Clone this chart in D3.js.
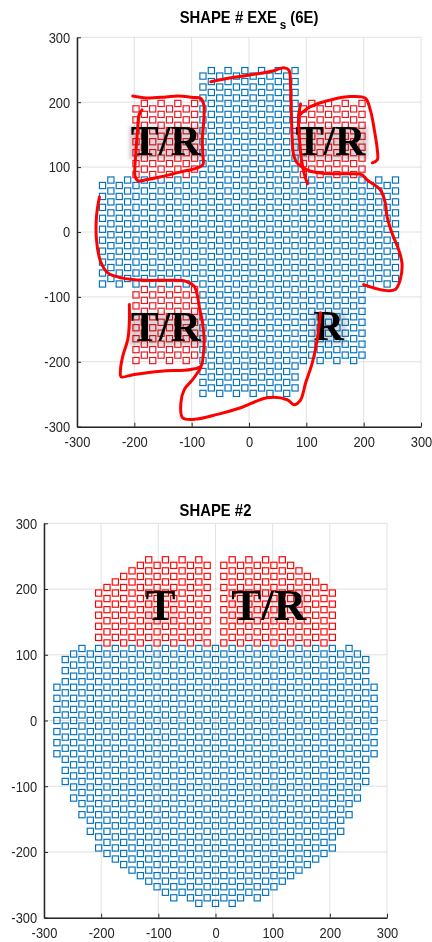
<!DOCTYPE html>
<html>
<head>
<meta charset="utf-8">
<script src="https://cdn.jsdelivr.net/npm/d3@7"></script>
<style>
  html, body { margin: 0; padding: 0; background: #fff; }
  svg { display: block; }
</style>
</head>
<body>
<svg id="chart" width="432" height="942"></svg>
<script>
// ---------------------------------------------------------------
// Element lattice: columns 14.6 apart, half-row step 8.43
// (rows inside one column are 2 half-steps apart, neighbouring
//  columns are shifted by one half-step).
// ---------------------------------------------------------------
const HALF_ROW = 8.43;
const tickValues = [-300, -200, -100, 0, 100, 200, 300];

// ----- SHAPE # EXE_s (6E) : y = (m + 0.5) * HALF_ROW -----
const exeColX = [-255.5, -240.9, -226.3, -211.7, -197.1, -182.5, -167.9, -153.3, -138.7, -124.1, -109.5, -94.9,
                 -80.3, -65.7, -51.1, -36.5, -21.9, -7.3, 7.3, 21.9, 36.5, 51.1, 65.7, 80.3,
                 94.9, 109.5, 124.1, 138.7, 153.3, 167.9, 182.5, 197.1, 211.7, 226.3, 240.9, 255.5];
const exeBlueLo = [-10, -9, -10, -9, -10, -9, -10, -9, -10, -9, -10, -9,
                   -30, -29, -30, -29, -30, -29, -30, -29, -30, -29, -30, -29,
                   -24, -23, -24, -23, -24, -23, -24, -23, -10, -9, -10, -9];
const exeBlueHi = [8, 9, 8, 9, 8, 9, 8, 9, 8, 9, 8, 9,
                   28, 29, 28, 29, 28, 29, 28, 29, 28, 29, 28, 29,
                   8, 9, 8, 9, 8, 9, 8, 9, 8, 9, 8, 9];
const N = null;
const exeRedUpLo = [N, N, N, N, 10, 11, 10, 11, 10, 11, 10, 11,
                    N, N, N, N, N, N, N, N, N, N, N, N,
                    10, 11, 10, 11, 10, 11, 10, 11, N, N, N, N];
const exeRedUpHi = [N, N, N, N, 22, 23, 22, 23, 22, 23, 22, 23,
                    N, N, N, N, N, N, N, N, N, N, N, N,
                    22, 23, 22, 23, 22, 23, 22, 23, N, N, N, N];
const exeRedDnLo = [N, N, N, N, -24, -23, -24, -23, -24, -23, -24, -23,
                    N, N, N, N, N, N, N, N, N, N, N, N,
                    N, N, N, N, N, N, N, N, N, N, N, N];
const exeRedDnHi = [N, N, N, N, -12, -11, -12, -11, -12, -11, -12, -11,
                    N, N, N, N, N, N, N, N, N, N, N, N,
                    N, N, N, N, N, N, N, N, N, N, N, N];

// ----- SHAPE #2 : y = m * HALF_ROW -----
const s2ColX = [-277.4, -262.8, -248.2, -233.6, -219, -204.4, -189.8, -175.2, -160.6, -146, -131.4, -116.8,
                -102.2, -87.6, -73, -58.4, -43.8, -29.2, -14.6, 0, 14.6, 29.2, 43.8, 58.4, 73, 87.6, 102.2,
                116.8, 131.4, 146, 160.6, 175.2, 189.8, 204.4, 219, 233.6, 248.2, 262.8, 277.4];
const s2BlueLo = [-6, -11, -14, -17, -20, -23, -24, -25, -26, -27, -28, -29, -30, -31, -32, -31, -32, -33, -32,
                  -33,
                  -32, -33, -32, -31, -32, -31, -30, -29, -28, -27, -26, -25, -24, -23, -20, -17, -14, -11, -6];
const s2BlueHi = [6, 11, 12, 13, 12, 13, 12, 13, 12, 13, 12, 13, 12, 13, 12, 13, 12, 13, 12,
                  13,
                  12, 13, 12, 13, 12, 13, 12, 13, 12, 13, 12, 13, 12, 13, 12, 13, 12, 11, 6];
const s2RedLo = [N, N, N, N, N, 15, 14, 15, 14, 15, 14, 15, 14, 15, 14, 15, 14, 15, 14,
                 N,
                 14, 15, 14, 15, 14, 15, 14, 15, 14, 15, 14, 15, 14, 15, N, N, N, N, N];
const s2RedHi = [N, N, N, N, N, 23, 24, 25, 26, 27, 28, 29, 28, 29, 28, 29, 28, 29, 28,
                 N,
                 28, 29, 28, 29, 28, 29, 28, 29, 28, 27, 26, 25, 24, 23, N, N, N, N, N];

// ----- hand-drawn group outlines on SHAPE # EXE_s (data units) -----
const outlineUpperLeft = [[-202.8, 209.6], [-179.6, 206.6], [-144.9, 208.1], [-124, 209.6], [-97.9, 207.3],
  [-84, 205.8], [-78.8, 195.8], [-78.8, 172.7], [-81.4, 142], [-80.5, 118.9], [-80.5, 103.5], [-92.7, 98.1],
  [-118.8, 92.7], [-153.6, 85.1], [-179.6, 80.4], [-193.6, 78.9], [-198.8, 86.6], [-198.8, 103.5],
  [-197, 126.6], [-194.4, 157.3], [-191.8, 180.4], [-186.6, 188.1]];
const outlineUpperRightArc = [[86.4, 178.9], [107.3, 193.2], [147.3, 204.6], [176.9, 208.6], [202.9, 206.1],
  [211.6, 188.1], [218.6, 157.3], [223.8, 126.6], [223.8, 111.2], [215.1, 106.6]];
const outlineUpperRightSide = [[89.9, 197.3], [86.4, 175.8], [88.2, 142], [91.6, 111.2], [96.9, 88.1], [102.1, 74.3]];
const outlineCentreRight = [[-66.6, 231.6], [-26.1, 238.4], [20.3, 244.5], [43.5, 248.5], [60.9, 253.2],
  [69.6, 249.6], [72.5, 223.9], [73.7, 188.1], [75.5, 141.9], [78, 118], [84.2, 106.1], [101.6, 95.8],
  [124.7, 90.7], [147.8, 89.7], [176.9, 89.7], [197.2, 88.1], [205.9, 80.4], [229, 65.1], [237.7, 44.6],
  [240.7, 24], [249.4, -1.5], [260.9, -27.2], [266.8, -47.7], [263.8, -73.4], [255.1, -88.7],
  [234.8, -89.8], [200, -81.1]];
const outlineLeft = [[-260.9, 54], [-266, 24], [-266, -12], [-259, -45], [-246.2, -63.1], [-223.1, -70.7],
  [-182.6, -74.4], [-141.9, -74.4], [-110.1, -76], [-95.6, -83.7], [-89.7, -99], [-87, -114.4], [-81, -140],
  [-78.3, -165.6], [-80, -191.3], [-84, -206.7], [-101.4, -211.8], [-153.6, -214.4], [-200, -219.5],
  [-223.1, -223], [-224.3, -214.4], [-220.2, -191.3], [-211.5, -165.6], [-208.7, -140], [-208.7, -111.8]];
const outlineBottom = [[-84, -209.2], [-98, -227.2], [-112.7, -242.5], [-118.8, -263], [-115.9, -286.1],
  [-95.6, -288.7], [-55, -281], [-14.4, -270.8], [32, -255.4], [66.8, -258.5], [78.3, -266.2], [90, -258.5],
  [98.8, -232.3], [110.4, -201.6], [119.1, -165.6], [124.7, -124.6]];

// ----- group tags -----
const exeTagText = ["T/R", "T/R", "T/R", "R"];
const exeTagX = [-145, 142, -145, 139];
const exeTagY = [119, 119, -168, -166];
const s2TagText = ["T", "T/R"];
const s2TagX = [-96, 93];
const s2TagY = [153, 153];

// ---------------------------------------------------------------
const svg = d3.select("#chart");
const BLUE = "#0072BD";

function buildElements(colX, lo, hi, offset, colour) {
  const pts = [];
  colX.forEach((x, i) => {
    if (lo[i] == null) return;
    for (let m = lo[i]; m <= hi[i]; m += 2) pts.push({ x, y: (m + offset) * HALF_ROW, colour });
  });
  return pts;
}

function drawPanel(opt) {
  const x = d3.scaleLinear([-300, 300], opt.xRange);
  const y = d3.scaleLinear([-300, 300], opt.yRange);
  const g = svg.append("g");

  // grid
  const grid = g.append("g").attr("stroke", "#dedede").attr("stroke-width", 0.9);
  grid.selectAll("line.v").data(tickValues).join("line")
    .attr("x1", d => x(d)).attr("x2", d => x(d))
    .attr("y1", y(-300)).attr("y2", y(300));
  grid.selectAll("line.h").data(tickValues).join("line")
    .attr("y1", d => y(d)).attr("y2", d => y(d))
    .attr("x1", x(-300)).attr("x2", x(300));

  // elements
  const s = 6.2;
  g.append("g").selectAll("rect").data(opt.elements).join("rect")
    .attr("x", d => x(d.x) - s / 2).attr("y", d => y(d.y) - s / 2)
    .attr("width", s).attr("height", s)
    .attr("fill", "none").attr("stroke", d => d.colour).attr("stroke-width", 1.15);

  // tags
  const tags = g.append("g");
  opt.tagText.forEach((t, i) => {
    const tg = tags.append("g");
    const txt = tg.append("text")
      .attr("x", x(opt.tagX[i])).attr("y", y(opt.tagY[i]))
      .attr("text-anchor", "middle")
      .attr("font-family", "'Liberation Serif', 'Times New Roman', serif")
      .attr("font-weight", "bold")
      .attr("font-size", opt.tagSize)
      .attr("fill", "#000")
      .text(t);
    const bb = txt.node().getBBox();
    tg.insert("rect", "text")
      .attr("x", bb.x - 2).attr("y", bb.y + bb.height * 0.18)
      .attr("width", bb.width + 4).attr("height", bb.height * 0.72)
      .attr("fill", opt.tagTint[i])
      .attr("opacity", 0.45)
      .style("mix-blend-mode", "multiply")
      .attr("filter", "url(#soft)");
  });

  // outlines
  const line = d3.line().x(d => x(d[0])).y(d => y(d[1])).curve(d3.curveCatmullRom.alpha(0.5));
  g.append("g").selectAll("path").data(opt.outlines).join("path")
    .attr("d", line).attr("fill", "none").attr("stroke", "#ff0000")
    .attr("stroke-width", 3).attr("stroke-linecap", "round").attr("stroke-linejoin", "round");

  // axes
  const fmt = d => String(d);
  const xa = g.append("g").attr("transform", `translate(0,${y(-300)})`)
    .call(d3.axisBottom(x).tickValues(tickValues).tickFormat(fmt).tickSize(-4).tickSizeOuter(0).tickPadding(10));
  const ya = g.append("g").attr("transform", `translate(${x(-300)},0)`)
    .call(d3.axisLeft(y).tickValues(tickValues).tickFormat(fmt).tickSize(-4).tickSizeOuter(0).tickPadding(8));
  [xa, ya].forEach(a => {
    a.select(".domain").attr("stroke", "#262626").attr("stroke-width", 1.5);
    a.selectAll(".tick line").attr("stroke", "#262626").attr("stroke-width", 1);
    a.selectAll(".tick text")
      .attr("font-family", "'Liberation Sans', Arial, sans-serif")
      .attr("font-size", 15).attr("fill", "#262626")
      .attr("transform", "scale(0.86,1)");
  });

  // title
  const cx = (opt.xRange[0] + opt.xRange[1]) / 2;
  const title = svg.append("text")
    .attr("x", cx)
    .attr("y", opt.titleY)
    .attr("text-anchor", "middle")
    .attr("font-family", "'Liberation Sans', Arial, sans-serif")
    .attr("font-weight", "bold").attr("font-size", 16.5).attr("fill", "#000");
  opt.title(title);
  title.attr("transform", `translate(${cx},0) scale(0.9,1) translate(${-cx},0)`);
}

// soft edge for tag backdrops
const defs = svg.append("defs");
defs.append("filter").attr("id", "soft").attr("x", "-20%").attr("y", "-20%").attr("width", "140%").attr("height", "140%")
  .append("feGaussianBlur").attr("stdDeviation", 1.6);

// ----- panel 1 -----
const exeElements = [
  ...buildElements(exeColX, exeBlueLo, exeBlueHi, 0.5, BLUE),
  ...buildElements(exeColX, exeRedUpLo, exeRedUpHi, 0.5, "#e8141e"),
  ...buildElements(exeColX, exeRedDnLo, exeRedDnHi, 0.5, "#e8141e")
];
drawPanel({
  xRange: [77, 421], yRange: [426.7, 37.3],
  elements: exeElements,
  tagText: exeTagText, tagX: exeTagX, tagY: exeTagY, tagSize: 42,
  tagTint: ["#b89aa0", "#b89aa0", "#b89aa0", "#a9b4be"],
  outlines: [outlineUpperLeft, outlineUpperRightArc, outlineUpperRightSide, outlineCentreRight, outlineLeft, outlineBottom],
  titleY: 23.5,
  title: t => {
    t.append("tspan").text("SHAPE # EXE");
    t.append("tspan").attr("dx", 3).attr("dy", 6).attr("font-size", 13).text("s");
    t.append("tspan").attr("dy", -6).text(" (6E)");
  }
});

// ----- panel 2 -----
const s2Elements = [
  ...buildElements(s2ColX, s2BlueLo, s2BlueHi, 0, BLUE),
  ...buildElements(s2ColX, s2RedLo, s2RedHi, 0, "#ff0000")
];
drawPanel({
  xRange: [44, 387], yRange: [917.7, 523.3],
  elements: s2Elements,
  tagText: s2TagText, tagX: s2TagX, tagY: s2TagY, tagSize: 45,
  tagTint: ["#e8c8cc", "#e8c8cc"],
  outlines: [],
  titleY: 516,
  title: t => t.text("SHAPE #2")
});
</script>
</body>
</html>
